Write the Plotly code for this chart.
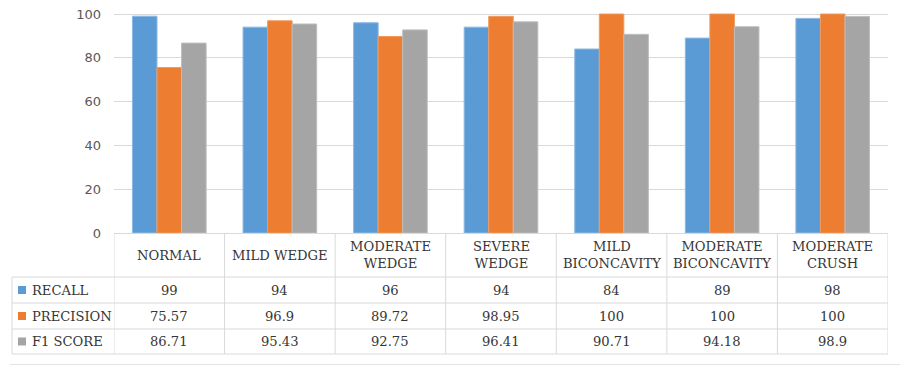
import plotly.graph_objects as go

# Classes and per-class metrics (%)
categories = ["NORMAL", "MILD WEDGE", "MODERATE WEDGE", "SEVERE WEDGE",
              "MILD BICONCAVITY", "MODERATE BICONCAVITY", "MODERATE CRUSH"]
header_labels = ["NORMAL", "MILD WEDGE", "MODERATE<br>WEDGE", "SEVERE<br>WEDGE",
                 "MILD<br>BICONCAVITY", "MODERATE<br>BICONCAVITY", "MODERATE<br>CRUSH"]
recall = [99, 94, 96, 94, 84, 89, 98]
precision = [75.57, 96.9, 89.72, 98.95, 100, 100, 100]
f1_score = [86.71, 95.43, 92.75, 96.41, 90.71, 94.18, 98.9]
recall_text = ["99", "94", "96", "94", "84", "89", "98"]
precision_text = ["75.57", "96.9", "89.72", "98.95", "100", "100", "100"]
f1_text = ["86.71", "95.43", "92.75", "96.41", "90.71", "94.18", "98.9"]
y_ticks = [0, 20, 40, 60, 80, 100]

series = [
    ("RECALL", recall, recall_text, "#5B9BD5", "#8DB8E2"),
    ("PRECISION", precision, precision_text, "#ED7D31", "#F09A5E"),
    ("F1 SCORE", f1_score, f1_text, "#A5A5A5", "#BDBDBD"),
]

W, H = 900, 366
L, R, T, B = 114, 12, 10, 133
PH = H - T - B
PW = W - L - R
Y_TOP = 100 * PH / 219.0

GRID = "#D9D9D9"
TEXT = "#363636"
SERIF = "DejaVu Serif"
FS = 13.1


def py(pixel_y):
    """Convert a pixel row into paper y coordinates."""
    return (H - B - pixel_y) / PH


def px(pixel_x):
    """Convert a pixel column into paper x coordinates."""
    return (pixel_x - L) / PW


fig = go.Figure()
for name, vals, _, color, edge in series:
    fig.add_trace(go.Bar(
        x=categories, y=vals, name=name,
        marker=dict(color=color, line=dict(color=edge, width=1)),
        showlegend=False,
    ))

shapes = []
annotations = []

# Data table below the plot: row boundaries in pixels
row_top = 233.5
row_lines = [277, 303, 329, 354]
table_left = 12
line_style = dict(color=GRID, width=1)

# top line (acts as the category axis)
shapes.append(dict(type="line", xref="paper", yref="paper", x0=0, x1=1,
                   y0=py(row_top), y1=py(row_top), line=line_style))
for yl in row_lines:
    shapes.append(dict(type="line", xref="paper", yref="paper", x0=px(table_left), x1=1,
                       y0=py(yl), y1=py(yl), line=line_style))
# left border of the row label column
shapes.append(dict(type="line", xref="paper", yref="paper",
                   x0=px(table_left), x1=px(table_left),
                   y0=py(row_lines[0]), y1=py(row_lines[-1]), line=line_style))
# column boundaries at category edges
for k in range(len(categories) + 1):
    shapes.append(dict(type="line", xref="x", yref="paper",
                       x0=k - 0.5, x1=k - 0.5,
                       y0=py(row_top), y1=py(row_lines[-1]), line=line_style))

# faint rule along the bottom edge
shapes.append(dict(type="line", xref="paper", yref="paper",
                   x0=px(10), x1=px(900), y0=py(364.5), y1=py(364.5),
                   line=dict(color="#E3E3E3", width=1)))

# header row with category names
for k, lab in enumerate(header_labels):
    annotations.append(dict(xref="x", yref="paper", x=k,
                            y=py((row_top + row_lines[0]) / 2),
                            text=lab, showarrow=False, xanchor="center", yanchor="middle",
                            font=dict(family=SERIF, size=FS, color=TEXT)))

# value rows with legend keys
row_bounds = [(row_lines[0], row_lines[1]), (row_lines[1], row_lines[2]),
              (row_lines[2], row_lines[3])]
for (name, vals, texts, color, _), (y0, y1) in zip(series, row_bounds):
    yc = (y0 + y1) / 2
    shapes.append(dict(type="rect", xref="paper", yref="paper",
                       x0=px(18), x1=px(26), y0=py(yc + 4), y1=py(yc - 4),
                       fillcolor=color, line=dict(width=0)))
    annotations.append(dict(xref="paper", yref="paper", x=px(30), y=py(yc),
                            text=name, showarrow=False, xanchor="left", yanchor="middle",
                            font=dict(family=SERIF, size=FS, color=TEXT)))
    for k, t in enumerate(texts):
        annotations.append(dict(xref="x", yref="paper", x=k, y=py(yc),
                                text=t, showarrow=False, xanchor="center", yanchor="middle",
                                font=dict(family=SERIF, size=FS, color=TEXT)))

fig.update_layout(
    width=W, height=H,
    margin=dict(l=L, r=R, t=T, b=B, autoexpand=False),
    paper_bgcolor="white", plot_bgcolor="white",
    barmode="group", bargap=0.334, bargroupgap=0,
    shapes=shapes, annotations=annotations,
    xaxis=dict(range=[-0.5, len(categories) - 0.5], showticklabels=False,
               showgrid=False, zeroline=False, showline=False, fixedrange=True),
    yaxis=dict(range=[0, Y_TOP], tickvals=y_ticks, showgrid=True, gridcolor=GRID,
               gridwidth=1, zeroline=False, showline=False, ticks="",
               ticklabelstandoff=12,
               tickfont=dict(family="DejaVu Sans", size=13, color="#595959")),
)

fig.write_html("out.html")
